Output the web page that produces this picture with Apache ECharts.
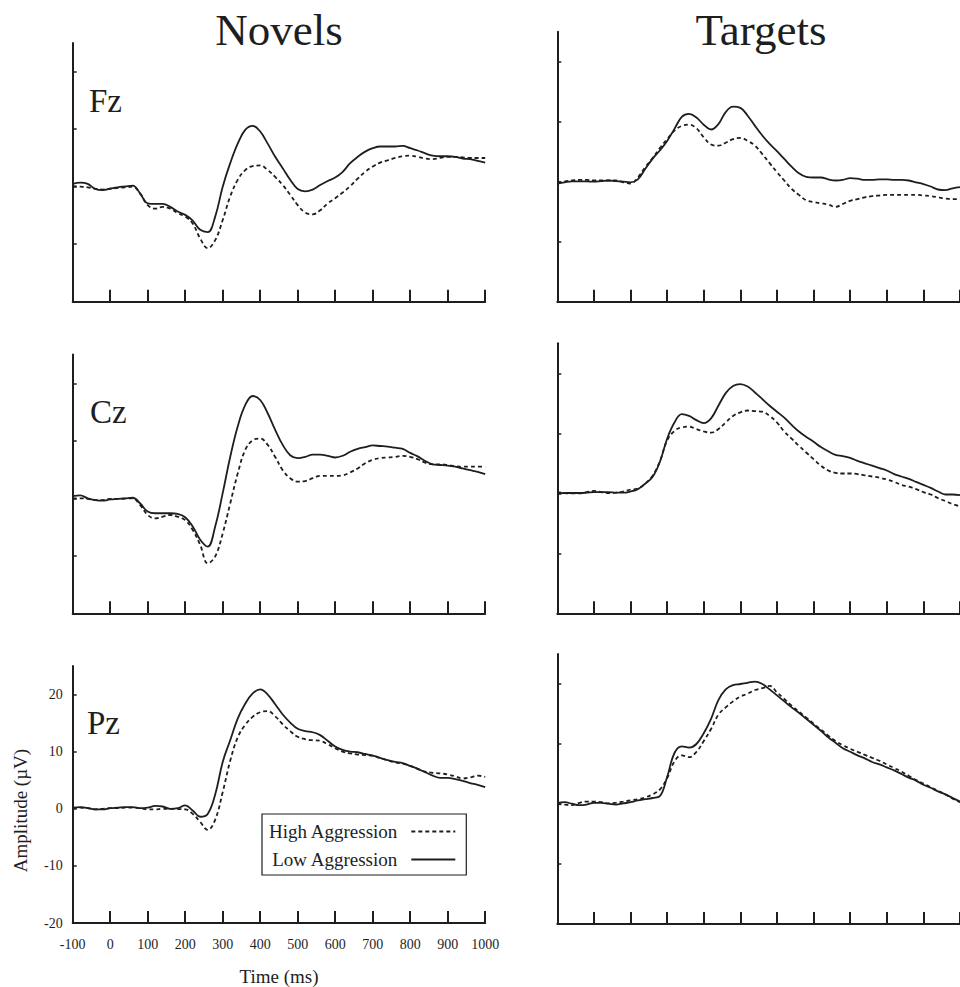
<!DOCTYPE html>
<html>
<head>
<meta charset="utf-8">
<script src="https://cdn.jsdelivr.net/npm/echarts@6/dist/echarts.min.js"></script>
<style>
html,body{margin:0;padding:0;background:#fff;}
#chart{width:960px;height:987px;}
</style>
</head>
<body>
<div id="chart"></div>
<script>
// ---- data (time in ms, amplitude in µV) ----
const time = [];
for (let t = -100; t <= 1000; t += 20) time.push(t);

const conditions = ['Novels', 'Targets'];
const electrodes = ['Fz', 'Cz', 'Pz'];
const seriesNames = ['High Aggression', 'Low Aggression'];
const xTickLabels = [-100, 0, 100, 200, 300, 400, 500, 600, 700, 800, 900, 1000];
const yTickValues = [-20, -10, 0, 10, 20];

const novelsFzLow = [0.5,0.7,0.5,-0.4,-0.6,-0.35,-0.1,0.05,0.2,
  -1.2,-2.9,-3.0,-3.0,-3.5,-4.3,-4.9,-5.9,-7.5,
  -7.9,-5.2,0,4.1,7.5,9.9,10.6,9.6,7.5,
  5.2,3.2,1.2,-0.4,-0.8,-0.5,0.3,1.0,1.6,
  2.6,4.1,5.2,6.1,6.7,7.0,7.0,7.0,7.1,
  6.7,6.3,5.8,5.4,5.3,5.3,5.2,4.9,4.8,
  4.5,4.2];
const novelsFzHigh = [0.1,0,-0.1,-0.35,-0.5,-0.35,-0.2,-0.1,0,
  -1.2,-3.2,-3.8,-3.5,-3.8,-4.6,-5.2,-6.4,-9.0,
  -10.7,-9.3,-5.8,-1.7,1.2,2.9,3.6,3.7,2.9,
  1.7,0.3,-1.4,-3.2,-4.5,-4.8,-4.1,-2.9,-2.0,
  -1.0,0.1,1.4,2.6,3.5,4.2,4.6,5.0,5.3,
  5.4,5.2,4.9,4.8,5.0,5.2,5.2,5.1,5.0,
  5.0,5.0];

const novelsCzLow = [0.4,0.5,0,-0.3,-0.4,-0.2,-0.1,0,0.1,
  -0.9,-2.3,-2.6,-2.6,-2.6,-2.7,-3.3,-4.9,-7.2,
  -8.4,-4.9,0.9,7.2,12.5,16.2,17.8,17.1,14.8,
  11.9,9.3,7.5,7.0,7.2,7.6,7.6,7.4,7.1,
  7.4,8.1,8.6,8.9,9.2,9.1,9.0,8.8,8.6,
  7.9,7.3,6.5,5.9,5.8,5.7,5.5,5.2,4.9,
  4.6,4.2];
const novelsCzHigh = [0,0,-0.1,-0.3,-0.3,-0.1,-0.1,-0.05,0,
  -1.2,-2.9,-3.5,-3.2,-2.9,-3.2,-3.8,-5.5,-8.1,
  -11.3,-10.1,-6.1,-0.9,4.3,8.4,10.1,10.4,9.3,
  7.2,4.9,3.5,2.9,3.0,3.5,3.9,3.9,3.9,
  4.0,4.5,5.2,6.1,6.7,7.0,7.1,7.2,7.4,
  7.2,6.8,6.2,5.9,5.9,5.8,5.6,5.5,5.5,
  5.5,5.5];

const novelsPzLow = [0.2,0.3,0.1,-0.1,-0.1,0.1,0.2,0.3,0.3,
  0.1,0.2,0.5,0.4,0,0.1,0.6,-0.3,-1.4,
  -0.9,2.5,8.2,12.0,15.8,18.4,20.2,20.9,20.0,
  18.3,16.5,15.1,14.0,13.6,13.4,12.9,11.9,10.9,
  10.3,10.0,9.9,9.6,9.3,8.9,8.5,8.2,8.0,
  7.5,7.0,6.4,5.8,5.4,5.4,5.2,4.9,4.5,
  4.2,3.8];
const novelsPzHigh = [0.1,0.2,0.1,-0.1,0,0.1,0.1,0.2,0.2,
  0.1,-0.1,-0.1,0,0,-0.05,-0.1,-0.9,-2.3,
  -3.7,-1.9,2.9,8.4,12.5,14.7,16.1,16.9,17.1,
  16.2,14.8,13.6,12.6,12.2,12.0,11.9,11.3,10.6,
  10.0,9.7,9.5,9.4,9.3,8.9,8.5,8.1,7.9,
  7.5,7.0,6.5,6.3,6.2,6.0,5.7,5.3,5.5,
  5.8,5.6];

const targetsFzLow = [-0.3,-0.1,0.05,0.05,0.05,0,0.1,0.2,0.1,
  0,-0.1,0.4,2.1,3.8,5.2,6.8,8.8,10.8,
  11.3,10.7,9.5,8.7,9.6,11.6,12.5,12.3,11.0,
  9.3,7.7,6.3,5.1,3.8,2.5,1.4,0.8,0.7,
  0.7,0.4,0.2,0.3,0.6,0.5,0.3,0.3,0.4,
  0.4,0.3,0.3,0.2,-0.1,-0.4,-0.8,-1.3,-1.4,
  -1.1,-0.9];
const targetsFzHigh = [-0.1,0.05,0.2,0.3,0.3,0.2,0.2,0.2,0.2,
  -0.1,-0.3,0.7,2.4,3.9,5.6,7.1,8.5,9.3,
  9.5,8.9,7.4,6.2,6.0,6.5,7.1,7.3,6.8,
  6.0,4.6,3.1,1.6,0.2,-1.2,-2.2,-3.1,-3.4,
  -3.6,-3.8,-4.2,-3.7,-3.2,-2.9,-2.6,-2.4,-2.3,
  -2.2,-2.2,-2.2,-2.2,-2.2,-2.3,-2.4,-2.6,-2.8,
  -2.9,-2.9];

const targetsCzLow = [0,0.05,0.05,0.05,0.1,0.2,0.2,0.2,0.1,
  0.1,0.3,0.7,1.6,2.7,5.2,9.1,11.8,13.2,
  12.9,12.2,11.7,12.5,14.6,16.7,17.9,18.2,17.8,
  16.8,15.7,14.6,13.6,12.6,11.4,10.3,9.4,8.6,
  7.7,7.0,6.4,6.2,5.9,5.4,5.0,4.6,4.2,
  3.8,3.2,2.8,2.4,1.9,1.4,0.9,0.3,-0.2,
  -0.2,-0.3];
const targetsCzHigh = [0.2,0.05,0,0,0.2,0.4,0.2,0.05,0.1,
  0.3,0.6,0.8,1.6,2.9,5.3,8.8,10.4,11.0,
  11.1,10.7,10.3,10.1,10.7,11.8,12.9,13.5,13.8,
  13.7,13.6,12.9,11.8,10.3,9.1,7.9,6.8,5.7,
  4.6,3.8,3.4,3.3,3.3,3.2,3.0,2.8,2.6,
  2.3,1.9,1.4,1.1,0.7,0.2,-0.2,-0.8,-1.3,
  -1.8,-2.2];

const targetsPzLow = [0.2,0.3,0.05,-0.2,-0.1,0.2,0.2,0.05,-0.1,
  0.1,0.3,0.6,0.8,1.0,1.3,4.5,8.5,9.6,
  9.4,10.0,11.8,14.2,17.3,19.1,19.8,20.0,20.2,
  20.4,20.0,19.1,18.1,17.1,16.1,15.2,14.2,13.2,
  12.2,11.1,10.2,9.3,8.7,8.1,7.6,7.0,6.6,
  6.1,5.6,5.0,4.4,3.9,3.2,2.7,2.1,1.6,
  1.0,0.4];
const targetsPzHigh = [0,-0.1,-0.2,0.2,0.4,0.4,0.3,0.1,0.2,
  0.4,0.6,0.8,1.1,1.6,2.4,4.3,7.1,8.1,
  7.8,8.7,10.5,12.5,14.9,16.1,17.1,17.9,18.4,
  19.0,19.3,19.7,18.6,17.5,16.4,15.4,14.4,13.4,
  12.4,11.4,10.5,9.8,9.2,8.7,8.2,7.7,7.2,
  6.6,6.0,5.4,4.7,4.0,3.4,2.8,2.2,1.6,
  0.9,0.3];

// panel order: Novels Fz, Cz, Pz, Targets Fz, Cz, Pz
const panelHigh = [novelsFzHigh, novelsCzHigh, novelsPzHigh, targetsFzHigh, targetsCzHigh, targetsPzHigh];
const panelLow  = [novelsFzLow,  novelsCzLow,  novelsPzLow,  targetsFzLow,  targetsCzLow,  targetsPzLow];

// ---- layout ----
const gridBoxes = [
  {left: 72.7, top: 43.0,  width: 412.5, height: 258.7},
  {left: 72.7, top: 354.6, width: 412.5, height: 258.7},
  {left: 72.7, top: 666.0, width: 412.5, height: 258.7},
  {left: 557.3, top: 31.7,  width: 412.5, height: 270.0},
  {left: 557.3, top: 343.3, width: 412.5, height: 270.0},
  {left: 557.3, top: 654.0, width: 412.5, height: 270.0}
];
const INK = '#1e1e1e';
const SERIF = '"Liberation Serif", "Times New Roman", serif';

const grids = [], xAxes = [], yAxes = [], series = [];
gridBoxes.forEach((b, i) => {
  grids.push(Object.assign({containLabel: false}, b));
  const isLabeled = (i === 2);
  xAxes.push({
    type: 'value', gridIndex: i, min: -100, max: 1000, interval: 100,
    axisLine: {show: true, onZero: false, lineStyle: {color: INK, width: 2}},
    axisTick: {show: true, inside: true, length: 12, lineStyle: {color: INK, width: 2}},
    splitLine: {show: false},
    axisLabel: {show: isLabeled, margin: 14, fontSize: 14, color: INK, fontFamily: SERIF,
      customValues: xTickLabels, formatter: v => String(v)},
    name: isLabeled ? 'Time (ms)' : '',
    nameLocation: 'middle', nameGap: 44,
    nameTextStyle: {fontSize: 19, color: INK, fontFamily: SERIF}
  });
  yAxes.push({
    type: 'value', gridIndex: i, min: -20, max: 25, interval: 10,
    axisLine: {show: true, onZero: false, lineStyle: {color: INK, width: 2}},
    axisTick: {show: true, inside: true, length: 4, lineStyle: {color: INK, width: 1.5},
      customValues: yTickValues},
    splitLine: {show: false},
    axisLabel: {show: isLabeled, margin: 10, fontSize: 14, color: INK, fontFamily: SERIF,
      customValues: yTickValues, formatter: v => String(v)},
    name: isLabeled ? 'Amplitude (\u00B5V)' : '',
    nameLocation: 'middle', nameGap: 43,
    nameTextStyle: {fontSize: 19, color: INK, fontFamily: SERIF, padding: [0, 32, 0, 0]}
  });
  series.push({
    name: seriesNames[0], type: 'line', xAxisIndex: i, yAxisIndex: i,
    data: time.map((t, k) => [t, panelHigh[i][k]]),
    symbol: 'none', smooth: 0.4, clip: true, silent: true,
    lineStyle: {color: INK, width: 1.8, type: [4, 3]},
    itemStyle: {color: INK}
  });
  series.push({
    name: seriesNames[1], type: 'line', xAxisIndex: i, yAxisIndex: i,
    data: time.map((t, k) => [t, panelLow[i][k]]),
    symbol: 'none', smooth: 0.4, clip: true, silent: true,
    lineStyle: {color: INK, width: 1.8, type: 'solid'},
    itemStyle: {color: INK}
  });
});

const graphics = [
  {type: 'text', x: 279, y: 30, style: {text: conditions[0], fill: INK, font: '45px ' + SERIF, align: 'center', verticalAlign: 'middle'}},
  {type: 'text', x: 761, y: 30, style: {text: conditions[1], fill: INK, font: '45px ' + SERIF, align: 'center', verticalAlign: 'middle'}},
  {type: 'text', x: 89, y: 101, style: {text: electrodes[0], fill: INK, font: '33px ' + SERIF, align: 'left', verticalAlign: 'middle'}},
  {type: 'text', x: 90, y: 412, style: {text: electrodes[1], fill: INK, font: '33px ' + SERIF, align: 'left', verticalAlign: 'middle'}},
  {type: 'text', x: 87, y: 723, style: {text: electrodes[2], fill: INK, font: '33px ' + SERIF, align: 'left', verticalAlign: 'middle'}}
];

const chart = echarts.init(document.getElementById('chart'), null, {renderer: 'svg'});
chart.setOption({
  animation: false,
  backgroundColor: '#fff',
  grid: grids,
  xAxis: xAxes,
  yAxis: yAxes,
  series: series,
  graphic: graphics,
  legend: {
    data: seriesNames,
    orient: 'vertical', align: 'right',
    left: 262, top: 814,
    padding: [8, 10, 6, 6],
    itemGap: 9, itemWidth: 44, itemHeight: 20,
    selectedMode: false,
    borderColor: INK, borderWidth: 1.2,
    itemStyle: {opacity: 0, color: 'transparent', borderWidth: 0},
    textStyle: {fontSize: 19, color: INK, fontFamily: SERIF, padding: [0, 9, 0, 0]}
  }
});
</script>
</body>
</html>
